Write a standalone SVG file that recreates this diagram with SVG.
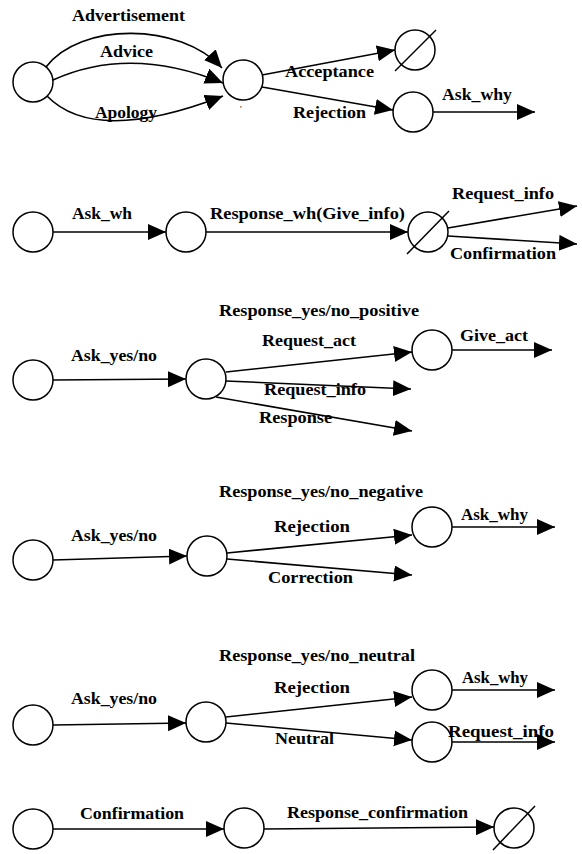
<svg xmlns="http://www.w3.org/2000/svg" width="582" height="854" viewBox="0 0 582 854">
  <defs>
    <marker id="arrow" markerUnits="userSpaceOnUse" markerWidth="20" markerHeight="17" refX="18" refY="8" orient="auto">
      <path d="M0,0 L18,8 L0,16 z" fill="#000"/>
    </marker>
    <style>
      .state { fill: #fff; stroke: #000; stroke-width: 1.5; }
      .slash { stroke: #000; stroke-width: 1.5; }
      .edge { fill: none; stroke: #000; stroke-width: 1.6; marker-end: url(#arrow); }
      .lbl { font-family: "Liberation Serif", "Times New Roman", serif; font-weight: bold; font-size: 17px; fill: #000; }
      .tick { font-family: "Liberation Serif", serif; font-size: 9px; fill: #000; }
    </style>
  </defs>
  <rect width="582" height="854" fill="#fff"/>

  <!-- transitions -->
  <g id="connectors">
    <!-- offer / acceptance graph -->
    <path class="edge" d="M46,67 C80,22 180,22 222,68"/>
    <path class="edge" d="M53,80 Q130,45 223,83"/>
    <path class="edge" d="M47,96 C80,130 140,128 223,96"/>
    <path class="edge" d="M262,75 L395,50"/>
    <path class="edge" d="M262,87 L393,110"/>
    <path class="edge" d="M433,112 L535,112"/>
    <!-- wh question -->
    <path class="edge" d="M53,232 L166,232"/>
    <path class="edge" d="M206,232 L408,232"/>
    <path class="edge" d="M448,228 L577,206"/>
    <path class="edge" d="M448,236 L577,244"/>
    <!-- yes/no positive -->
    <path class="edge" d="M53,380 L186,379"/>
    <path class="edge" d="M226,372 L412,352"/>
    <path class="edge" d="M226,381 L411,389"/>
    <path class="edge" d="M216,397 L412,431"/>
    <path class="edge" d="M452,350 L552,350"/>
    <!-- yes/no negative -->
    <path class="edge" d="M53,560 L187,556"/>
    <path class="edge" d="M227,553 L412,535"/>
    <path class="edge" d="M227,559 L412,575"/>
    <path class="edge" d="M452,527 L555,527"/>
    <!-- yes/no neutral -->
    <path class="edge" d="M53,725 L186,723"/>
    <path class="edge" d="M226,717 L412,697"/>
    <path class="edge" d="M226,723 L412,740"/>
    <path class="edge" d="M452,690 L555,690"/>
    <path class="edge" d="M452,742 L555,742"/>
    <!-- confirmation -->
    <path class="edge" d="M53,829 L224,829"/>
    <path class="edge" d="M264,829 L494,827"/>
  </g>

  <!-- states -->
  <g id="s1-start"><circle class="state" cx="33" cy="82" r="20"/></g>
  <g id="s1-mid"><circle class="state" cx="243" cy="80" r="20"/><text class="tick" x="240" y="112">'</text></g>
  <g id="s1-end"><circle class="state" cx="415" cy="50" r="20"/><line class="slash" x1="395" y1="71" x2="436" y2="30"/></g>
  <g id="s1-rej"><circle class="state" cx="413" cy="112" r="20"/></g>

  <g id="s2-start"><circle class="state" cx="33" cy="232" r="20"/></g>
  <g id="s2-mid"><circle class="state" cx="186" cy="232" r="20"/></g>
  <g id="s2-end"><circle class="state" cx="428" cy="232" r="20"/><line class="slash" x1="407" y1="254" x2="449" y2="211"/></g>

  <g id="s3-start"><circle class="state" cx="33" cy="380" r="20"/></g>
  <g id="s3-mid"><circle class="state" cx="206" cy="379" r="20"/></g>
  <g id="s3-act"><circle class="state" cx="432" cy="350" r="20"/></g>

  <g id="s4-start"><circle class="state" cx="33" cy="560" r="20"/></g>
  <g id="s4-mid"><circle class="state" cx="207" cy="556" r="20"/></g>
  <g id="s4-rej"><circle class="state" cx="432" cy="527" r="20"/></g>

  <g id="s5-start"><circle class="state" cx="33" cy="725" r="20"/></g>
  <g id="s5-mid"><circle class="state" cx="206" cy="722" r="20"/></g>
  <g id="s5-rej"><circle class="state" cx="432" cy="690" r="20"/></g>
  <g id="s5-neu"><circle class="state" cx="432" cy="742" r="20"/></g>

  <g id="s6-start"><circle class="state" cx="33" cy="829" r="20"/></g>
  <g id="s6-mid"><circle class="state" cx="244" cy="828" r="20"/></g>
  <g id="s6-end"><circle class="state" cx="514" cy="828" r="20"/><line class="slash" x1="493" y1="850" x2="535" y2="806"/></g>

  <!-- labels -->
  <g id="labels">
    <text class="lbl" x="72" y="21" textLength="113" lengthAdjust="spacingAndGlyphs">Advertisement</text>
    <text class="lbl" x="100" y="57" textLength="53" lengthAdjust="spacingAndGlyphs">Advice</text>
    <text class="lbl" x="95" y="118" textLength="62" lengthAdjust="spacingAndGlyphs">Apology</text>
    <text class="lbl" x="285" y="77" textLength="89" lengthAdjust="spacingAndGlyphs">Acceptance</text>
    <text class="lbl" x="293" y="118" textLength="73" lengthAdjust="spacingAndGlyphs">Rejection</text>
    <text class="lbl" x="442" y="100" textLength="70" lengthAdjust="spacingAndGlyphs">Ask_why</text>

    <text class="lbl" x="72" y="219" textLength="60" lengthAdjust="spacingAndGlyphs">Ask_wh</text>
    <text class="lbl" x="210" y="219" textLength="195" lengthAdjust="spacingAndGlyphs">Response_wh(Give_info)</text>
    <text class="lbl" x="452" y="199" textLength="102" lengthAdjust="spacingAndGlyphs">Request_info</text>
    <text class="lbl" x="450" y="259" textLength="106" lengthAdjust="spacingAndGlyphs">Confirmation</text>

    <text class="lbl" x="219" y="316" textLength="200" lengthAdjust="spacingAndGlyphs">Response_yes/no_positive</text>
    <text class="lbl" x="71" y="361" textLength="86" lengthAdjust="spacingAndGlyphs">Ask_yes/no</text>
    <text class="lbl" x="262" y="346" textLength="94" lengthAdjust="spacingAndGlyphs">Request_act</text>
    <text class="lbl" x="264" y="395" textLength="102" lengthAdjust="spacingAndGlyphs">Request_info</text>
    <text class="lbl" x="259" y="423" textLength="73" lengthAdjust="spacingAndGlyphs">Response</text>
    <text class="lbl" x="460" y="341" textLength="68" lengthAdjust="spacingAndGlyphs">Give_act</text>

    <text class="lbl" x="219" y="497" textLength="204" lengthAdjust="spacingAndGlyphs">Response_yes/no_negative</text>
    <text class="lbl" x="71" y="541" textLength="86" lengthAdjust="spacingAndGlyphs">Ask_yes/no</text>
    <text class="lbl" x="274" y="532" textLength="76" lengthAdjust="spacingAndGlyphs">Rejection</text>
    <text class="lbl" x="268" y="583" textLength="85" lengthAdjust="spacingAndGlyphs">Correction</text>
    <text class="lbl" x="461" y="520" textLength="67" lengthAdjust="spacingAndGlyphs">Ask_why</text>

    <text class="lbl" x="219" y="661" textLength="196" lengthAdjust="spacingAndGlyphs">Response_yes/no_neutral</text>
    <text class="lbl" x="71" y="704" textLength="86" lengthAdjust="spacingAndGlyphs">Ask_yes/no</text>
    <text class="lbl" x="274" y="693" textLength="76" lengthAdjust="spacingAndGlyphs">Rejection</text>
    <text class="lbl" x="275" y="744" textLength="59" lengthAdjust="spacingAndGlyphs">Neutral</text>
    <text class="lbl" x="462" y="683" textLength="66" lengthAdjust="spacingAndGlyphs">Ask_why</text>
    <text class="lbl" x="448" y="737" textLength="106" lengthAdjust="spacingAndGlyphs">Request_info</text>

    <text class="lbl" x="80" y="819" textLength="104" lengthAdjust="spacingAndGlyphs">Confirmation</text>
    <text class="lbl" x="287" y="818" textLength="181" lengthAdjust="spacingAndGlyphs">Response_confirmation</text>
  </g>
</svg>
